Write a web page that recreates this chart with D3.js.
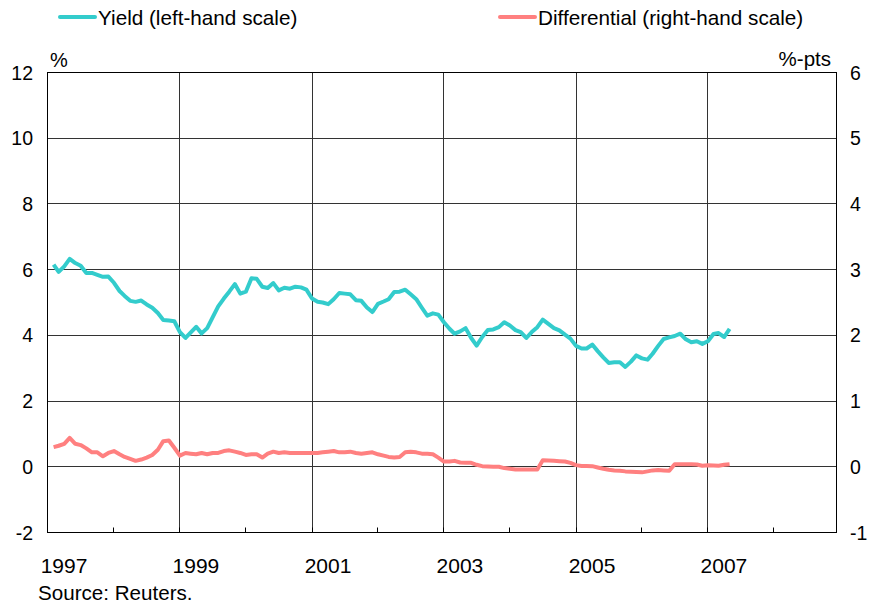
<!DOCTYPE html>
<html>
<head>
<meta charset="utf-8">
<script src="https://cdn.jsdelivr.net/npm/d3@7"></script>
<style>
  html, body { margin: 0; padding: 0; background: #fff; }
  svg { display: block; font-family: "Liberation Sans", Arial, sans-serif; }
</style>
</head>
<body>
<svg id="chart" width="873" height="607"></svg>
<script>
// ---- Data (monthly, starting Feb 1997) ----
const startMonth = "1997-02";
const yieldValues = [
  6.15, 5.93, 6.10, 6.33, 6.20, 6.12, 5.90, 5.90, 5.84, 5.78, 5.79, 5.60,
  5.35, 5.20, 5.05, 5.02, 5.06, 4.94, 4.84, 4.68, 4.47, 4.45, 4.43, 4.10,
  3.92, 4.08, 4.26, 4.06, 4.22, 4.55, 4.88, 5.12, 5.33, 5.56, 5.27, 5.33,
  5.74, 5.72, 5.48, 5.44, 5.59, 5.37, 5.45, 5.42, 5.48, 5.46, 5.39, 5.12,
  5.02, 5.00, 4.95, 5.10, 5.29, 5.27, 5.25, 5.07, 5.05, 4.85, 4.71, 4.96,
  5.03, 5.10, 5.32, 5.33, 5.39, 5.25, 5.10, 4.84, 4.60, 4.67, 4.63, 4.40,
  4.20, 4.05, 4.12, 4.22, 3.92, 3.69, 3.95, 4.16, 4.18, 4.25, 4.40, 4.30,
  4.16, 4.10, 3.92, 4.10, 4.25, 4.48, 4.35, 4.22, 4.15, 4.02, 3.90, 3.68,
  3.60, 3.60, 3.72, 3.52, 3.33, 3.16, 3.18, 3.18, 3.04, 3.20, 3.39, 3.30,
  3.26, 3.44, 3.68, 3.89, 3.94, 3.98, 4.05, 3.88, 3.79, 3.82, 3.74, 3.82,
  4.04, 4.07, 3.95, 4.20
];
const differentialValues = [
  0.30, 0.32, 0.35, 0.44, 0.35, 0.33, 0.28, 0.22, 0.22, 0.16, 0.21, 0.24,
  0.19, 0.15, 0.12, 0.09, 0.11, 0.14, 0.18, 0.26, 0.39, 0.40, 0.29, 0.17,
  0.21, 0.20, 0.19, 0.21, 0.19, 0.21, 0.21, 0.24, 0.25, 0.23, 0.21, 0.18,
  0.19, 0.19, 0.14, 0.20, 0.23, 0.21, 0.22, 0.21, 0.21, 0.21, 0.21, 0.21,
  0.21, 0.22, 0.23, 0.24, 0.22, 0.22, 0.23, 0.21, 0.20, 0.21, 0.22, 0.19,
  0.17, 0.15, 0.14, 0.15, 0.22, 0.23, 0.22, 0.20, 0.20, 0.19, 0.14, 0.08,
  0.08, 0.09, 0.065, 0.06, 0.06, 0.03, 0.01, 0.005, 0.00, 0.00, -0.02, -0.03,
  -0.04, -0.04, -0.04, -0.04, -0.04, 0.10, 0.095, 0.09, 0.085, 0.08, 0.06, 0.025,
  0.012, 0.012, 0.01, -0.01, -0.03, -0.045, -0.055, -0.06, -0.07, -0.075, -0.08, -0.085,
  -0.07, -0.055, -0.05, -0.055, -0.06, 0.04, 0.04, 0.04, 0.04, 0.035, 0.015, 0.025,
  0.02, 0.015, 0.03, 0.04
];
const leftTicks = [-2, 0, 2, 4, 6, 8, 10, 12];
const rightTicks = [-1, 0, 1, 2, 3, 4, 5, 6];
const yearLabels = ["1997", "1999", "2001", "2003", "2005", "2007"];
const seriesNames = ["Yield (left-hand scale)", "Differential (right-hand scale)"];
const leftUnit = "%";
const rightUnit = "%-pts";
const sourceText = "Source: Reuters.";

// ---- Layout ----
const plot = { left: 47.5, right: 836.5, top: 72.5, bottom: 532.5 };
const colors = { yield: "#33CCCC", diff: "#FF8080", grid: "#333" };

const svg = d3.select("#chart");
const parse = d3.timeParse("%Y-%m");
const t0 = parse(startMonth);
const dates = yieldValues.map((_, i) => d3.timeMonth.offset(t0, i));

const x = d3.scaleTime()
  .domain([new Date(1997, 0, 1), new Date(2009, 0, 1)])
  .range([48, 840]);
const yL = d3.scaleLinear().domain([-2, 12]).range([plot.bottom, plot.top]);
const yR = d3.scaleLinear().domain([-1, 6]).range([plot.bottom, plot.top]);

const crisp = v => Math.round(v - 0.5) + 0.5;

// horizontal gridlines
svg.append("g").selectAll("line")
  .data(leftTicks.filter(v => v > -2 && v < 12))
  .join("line")
  .attr("x1", plot.left).attr("x2", plot.right)
  .attr("y1", d => crisp(yL(d))).attr("y2", d => crisp(yL(d)))
  .attr("stroke", colors.grid).attr("stroke-width", 1);

// vertical gridlines at odd years
const gridYears = d3.range(1999, 2009, 2).map(y => new Date(y, 0, 1));
svg.append("g").selectAll("line")
  .data(gridYears)
  .join("line")
  .attr("x1", d => crisp(x(d))).attr("x2", d => crisp(x(d)))
  .attr("y1", plot.top).attr("y2", plot.bottom)
  .attr("stroke", colors.grid).attr("stroke-width", 1);

// small ticks each year on bottom axis (inside)
const tickYears = d3.range(1998, 2009).map(y => new Date(y, 0, 1));
svg.append("g").selectAll("line")
  .data(tickYears)
  .join("line")
  .attr("x1", d => crisp(x(d))).attr("x2", d => crisp(x(d)))
  .attr("y1", plot.bottom).attr("y2", plot.bottom - 5)
  .attr("stroke", "#000").attr("stroke-width", 1);

// frame
svg.append("rect")
  .attr("x", plot.left).attr("y", plot.top)
  .attr("width", plot.right - plot.left)
  .attr("height", plot.bottom - plot.top)
  .attr("fill", "none").attr("stroke", "#000").attr("stroke-width", 1);

// series lines
const lineL = d3.line().x((d, i) => x(dates[i])).y(d => yL(d));
const lineR = d3.line().x((d, i) => x(dates[i])).y(d => yR(d));

svg.append("path").datum(differentialValues)
  .attr("d", lineR).attr("fill", "none")
  .attr("stroke", colors.diff).attr("stroke-width", 4)
  .attr("stroke-linejoin", "round");
svg.append("path").datum(yieldValues)
  .attr("d", lineL).attr("fill", "none")
  .attr("stroke", colors.yield).attr("stroke-width", 4)
  .attr("stroke-linejoin", "round");

// left axis labels
svg.append("g").selectAll("text")
  .data(leftTicks).join("text")
  .attr("x", 33).attr("y", d => yL(d)).attr("dy", "0.36em")
  .attr("text-anchor", "end").attr("font-size", 19.5)
  .text(d => d);

// right axis labels
svg.append("g").selectAll("text")
  .data(rightTicks).join("text")
  .attr("x", 850).attr("y", d => yR(d)).attr("dy", "0.36em")
  .attr("text-anchor", "start").attr("font-size", 19.5)
  .text(d => d);

// unit labels
svg.append("text").attr("x", 50).attr("y", 67).attr("font-size", 20).text(leftUnit);
svg.append("text").attr("x", 831).attr("y", 66).attr("text-anchor", "end")
  .attr("font-size", 20.5).text(rightUnit);

// x labels
svg.append("g").selectAll("text")
  .data(yearLabels).join("text")
  .attr("x", d => x(new Date(+d, 0, 1)) + 16).attr("y", 573)
  .attr("text-anchor", "middle").attr("font-size", 21)
  .text(d => d);

// source
svg.append("text").attr("x", 38).attr("y", 600).attr("font-size", 20.6).text(sourceText);

// legend
const legend = [
  { name: seriesNames[0], color: colors.yield, x0: 60 },
  { name: seriesNames[1], color: colors.diff, x0: 500 }
];
const lg = svg.append("g").selectAll("g").data(legend).join("g");
lg.append("line")
  .attr("x1", d => d.x0).attr("x2", d => d.x0 + 35)
  .attr("y1", 17).attr("y2", 17)
  .attr("stroke", d => d.color).attr("stroke-width", 4).attr("stroke-linecap", "round");
lg.append("text")
  .attr("x", d => d.x0 + 38).attr("y", 25)
  .attr("font-size", 20.7).text(d => d.name);
</script>
</body>
</html>
